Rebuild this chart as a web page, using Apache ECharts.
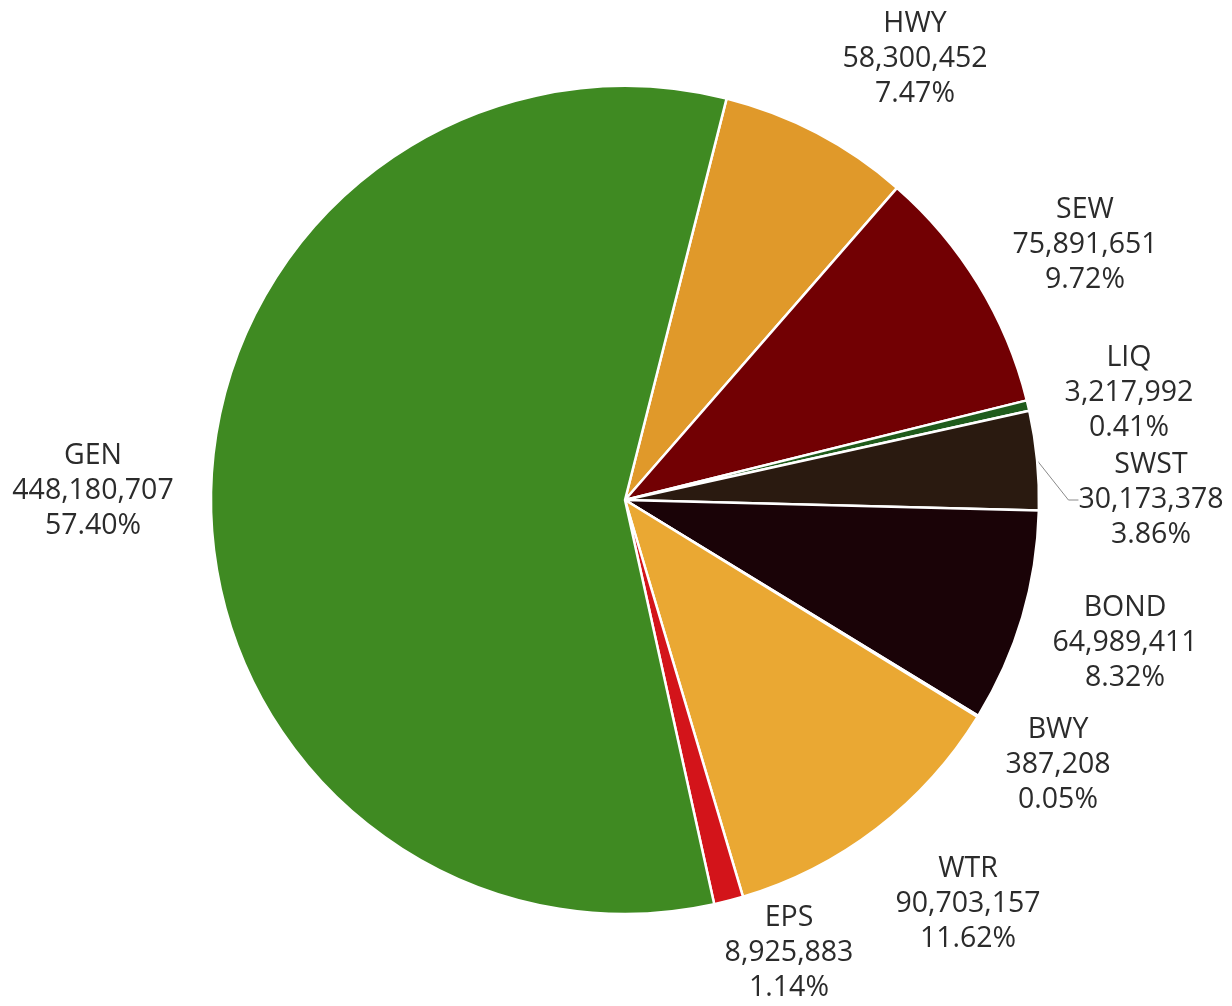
<!DOCTYPE html>
<html>
<head>
<meta charset="utf-8">
<script src="https://cdn.jsdelivr.net/npm/echarts@6/dist/echarts.min.js"></script>
<style>
html,body{margin:0;padding:0;background:#ffffff;}
#chart{width:1232px;height:1006px;}
</style>
</head>
<body>
<div id="chart"></div>
<script>
// Data
const categories = ['HWY', 'SEW', 'LIQ', 'SWST', 'BOND', 'BWY', 'WTR', 'EPS', 'GEN'];
const values = [58300452, 75891651, 3217992, 30173378, 64989411, 387208, 90703157, 8925883, 448180707];

// Styling
const colors = ['#e0992a', '#720003', '#1f5c1c', '#2a1a10', '#1a0307', '#f0c050', '#eaa833', '#d3141a', '#3f8a22'];
// label centre positions (layout)
const labelPos = [
  [915, 59], [1085, 245], [1129, 393], [1151, 500], [1125, 643],
  [1058, 765], [968, 904], [789, 953], [93, 491]
];

const total = values.reduce((a, b) => a + b, 0);

const data = categories.map((c, i) => {
  const item = {
    name: c,
    value: values[i],
    itemStyle: { color: colors[i] }
  };
  if (c === 'SWST') {
    item.labelLine = { show: true, lineStyle: { color: '#8a8a8a', width: 1 } };
  }
  return item;
});

const chart = echarts.init(document.getElementById('chart'), null, { renderer: 'canvas' });
chart.setOption({
  backgroundColor: '#ffffff',
  animation: false,
  series: [{
    type: 'pie',
    center: [625, 500],
    radius: 414,
    startAngle: 75.8,
    clockwise: true,
    avoidLabelOverlap: false,
    itemStyle: { borderColor: '#ffffff', borderWidth: 2.5 },
    label: {
      show: true,
      position: 'outside',
      fontFamily: '"Open Sans", sans-serif',
      fontSize: 28.5,
      lineHeight: 35,
      color: '#2b2b2b',
      align: 'center',
      formatter: function (p) {
        return p.name + '\n' + p.value.toLocaleString('en-US') + '\n' + (p.value / total * 100).toFixed(2) + '%';
      }
    },
    labelLine: { show: false, length: 10, length2: 10 },
    labelLayout: function (params) {
      const pos = labelPos[params.dataIndex];
      return { x: pos[0], y: pos[1], align: 'center', verticalAlign: 'middle' };
    },
    emphasis: { disabled: true },
    data: data
  }]
});
</script>
</body>
</html>
